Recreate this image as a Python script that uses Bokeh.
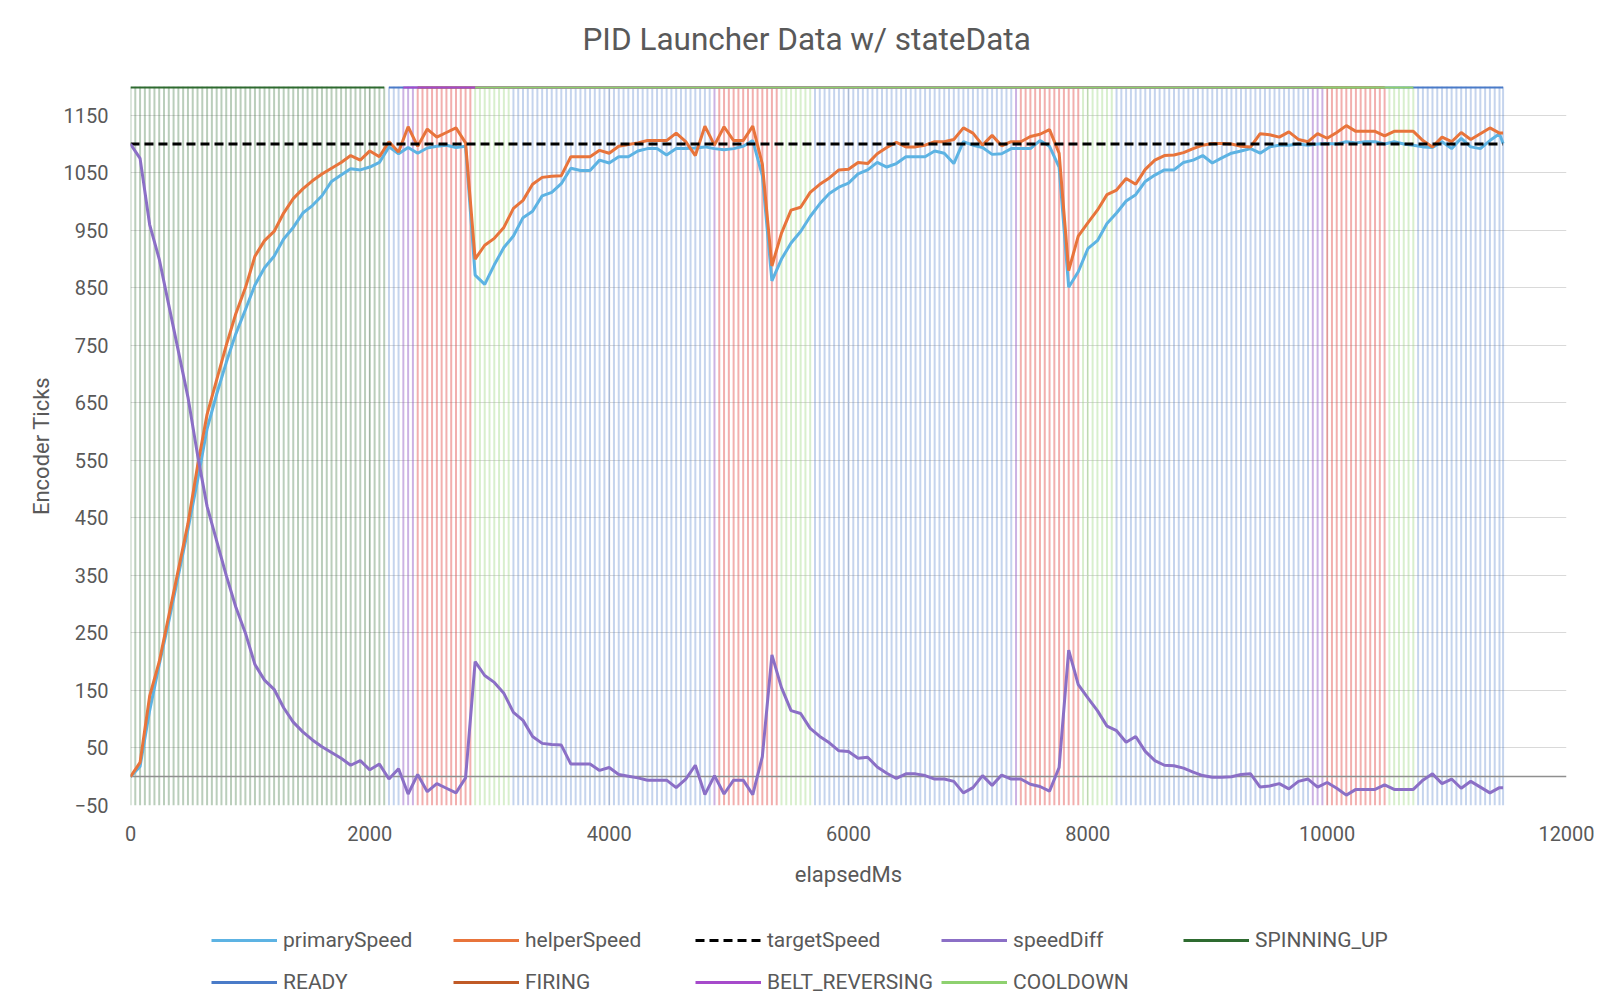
from bokeh.plotting import figure
from bokeh.layouts import column
from bokeh.models import Range1d, FixedTicker, Legend, LegendItem, ColumnDataSource
from bokeh.embed import file_html
from bokeh.resources import INLINE

# ---------------- data ----------------
elapsed_ms = [
    0, 80, 160, 240, 320, 400, 480, 560, 640, 720,
    800, 880, 960, 1040, 1120, 1200, 1280, 1360, 1440, 1520,
    1600, 1680, 1760, 1840, 1920, 2000, 2080, 2160, 2240, 2320,
    2400, 2480, 2560, 2640, 2720, 2800, 2880, 2960, 3040, 3120,
    3200, 3280, 3360, 3440, 3520, 3600, 3680, 3760, 3840, 3920,
    4000, 4080, 4160, 4240, 4320, 4400, 4480, 4560, 4640, 4720,
    4800, 4880, 4960, 5040, 5120, 5200, 5280, 5360, 5440, 5520,
    5600, 5680, 5760, 5840, 5920, 6000, 6080, 6160, 6240, 6320,
    6400, 6480, 6560, 6640, 6720, 6800, 6880, 6960, 7040, 7120,
    7200, 7280, 7360, 7440, 7520, 7600, 7680, 7760, 7840, 7920,
    8000, 8080, 8160, 8240, 8320, 8400, 8480, 8560, 8640, 8720,
    8800, 8880, 8960, 9040, 9120, 9200, 9280, 9360, 9440, 9520,
    9600, 9680, 9760, 9840, 9920, 10000, 10080, 10160, 10240, 10320,
    10400, 10480, 10560, 10640, 10720, 10800, 10880, 10960, 11040, 11120,
    11200, 11280, 11360, 11440, 11470,
]

primary_speed = [
    0, 18, 115, 195, 270, 350, 430, 515, 605, 665,
    720, 770, 812, 855, 885, 905, 935, 955, 980, 993,
    1010, 1035, 1046, 1057, 1055, 1060, 1068, 1095, 1083, 1094,
    1084, 1093, 1096, 1098, 1094, 1096, 872, 856, 890, 920,
    940, 972, 983, 1010, 1016, 1031, 1058, 1054, 1054, 1072,
    1067, 1078, 1078, 1088, 1092, 1092, 1081, 1092, 1092, 1093,
    1095, 1092, 1090, 1092, 1096, 1106, 1045, 862, 900, 928,
    948, 974, 996, 1014, 1025, 1032, 1048, 1055, 1068, 1060,
    1066, 1078, 1078, 1078, 1088, 1084, 1066, 1104, 1098, 1094,
    1082, 1083, 1092, 1092, 1092, 1106, 1096, 1060, 851, 878,
    918, 932, 962, 980, 1001, 1012, 1035, 1046, 1055, 1055,
    1068, 1072, 1080, 1067, 1076, 1084, 1088, 1092, 1084, 1095,
    1098, 1098, 1100, 1098, 1100, 1101, 1100, 1104, 1102, 1104,
    1104, 1100, 1104, 1100, 1098, 1095, 1094, 1104, 1092, 1110,
    1095, 1092, 1106, 1118, 1101,
]

helper_speed = [
    0, 25, 140, 200, 280, 360, 440, 540, 630, 690,
    750, 805, 850, 905, 932, 948, 980, 1005, 1022, 1036,
    1048, 1058, 1068, 1080, 1072, 1088, 1078, 1104, 1086, 1130,
    1096, 1126, 1112, 1120, 1128, 1102, 900, 924, 936, 955,
    988, 1002, 1030, 1042, 1044, 1045, 1078, 1078, 1078, 1089,
    1084, 1096, 1099, 1102, 1106, 1106, 1106, 1119, 1104, 1080,
    1131, 1098, 1130, 1106, 1106, 1131, 1065, 888, 945, 985,
    990, 1016, 1030, 1041, 1055, 1056, 1068, 1066, 1083, 1094,
    1103, 1095, 1095, 1098, 1104, 1104, 1108, 1128, 1119, 1098,
    1115, 1097, 1104, 1104, 1113, 1117, 1125, 1084, 880, 940,
    963, 985, 1012, 1020, 1040, 1030, 1056, 1072, 1080, 1081,
    1085, 1092, 1098, 1101, 1101, 1100, 1096, 1095, 1118, 1116,
    1112, 1121, 1108, 1104, 1118, 1110, 1120, 1132, 1122, 1122,
    1122, 1114, 1122, 1122, 1122, 1106, 1095, 1112, 1104, 1120,
    1108, 1118, 1128, 1119, 1119,
]

speed_diff = [
    1100, 1075, 960, 900, 820, 740, 660, 560, 470, 410,
    350, 295, 250, 195, 168, 152, 120, 95, 78, 64,
    52, 42, 32, 20, 28, 12, 22, -4, 14, -30,
    4, -26, -12, -20, -28, -2, 200, 176, 164, 145,
    112, 98, 70, 58, 56, 55, 22, 22, 22, 11,
    16, 4, 1, -2, -6, -6, -6, -19, -4, 20,
    -31, 2, -30, -6, -6, -31, 35, 212, 155, 115,
    110, 84, 70, 59, 45, 44, 32, 34, 17, 6,
    -3, 5, 5, 2, -4, -4, -8, -28, -19, 2,
    -15, 3, -4, -4, -13, -17, -25, 16, 220, 160,
    137, 115, 88, 80, 60, 70, 44, 28, 20, 19,
    15, 8, 2, -1, -1, 0, 4, 5, -18, -16,
    -12, -21, -8, -4, -18, -10, -20, -32, -22, -22,
    -22, -14, -22, -22, -22, -6, 5, -12, -4, -20,
    -8, -18, -28, -19, -19,
]

target_speed = 1100

# state log samples
state_ms = [
    0, 40, 80, 120, 160, 200, 240, 280, 320, 360, 400, 440, 480, 520, 560, 600, 640, 680, 720, 760,
    800, 840, 880, 920, 960, 1000, 1040, 1080, 1120, 1160, 1200, 1240, 1280, 1320, 1360, 1400, 1440, 1480, 1520, 1560,
    1600, 1640, 1680, 1720, 1760, 1800, 1840, 1880, 1920, 1960, 2000, 2040, 2080, 2120, 2160, 2200, 2240, 2280, 2320, 2360,
    2400, 2440, 2480, 2520, 2560, 2600, 2640, 2680, 2720, 2760, 2800, 2840, 2880, 2920, 2960, 3000, 3040, 3080, 3120, 3160,
    3200, 3240, 3280, 3320, 3360, 3400, 3440, 3480, 3520, 3560, 3600, 3640, 3680, 3720, 3760, 3800, 3840, 3880, 3920, 3960,
    4000, 4040, 4080, 4120, 4160, 4200, 4240, 4280, 4320, 4360, 4400, 4440, 4480, 4520, 4560, 4600, 4640, 4680, 4720, 4760,
    4800, 4840, 4880, 4920, 4960, 5000, 5040, 5080, 5120, 5160, 5200, 5240, 5280, 5320, 5360, 5400, 5440, 5480, 5520, 5560,
    5600, 5640, 5680, 5720, 5760, 5800, 5840, 5880, 5920, 5960, 6000, 6040, 6080, 6120, 6160, 6200, 6240, 6280, 6320, 6360,
    6400, 6440, 6480, 6520, 6560, 6600, 6640, 6680, 6720, 6760, 6800, 6840, 6880, 6920, 6960, 7000, 7040, 7080, 7120, 7160,
    7200, 7240, 7280, 7320, 7360, 7400, 7440, 7480, 7520, 7560, 7600, 7640, 7680, 7720, 7760, 7800, 7840, 7880, 7920, 7960,
    8000, 8040, 8080, 8120, 8160, 8200, 8240, 8280, 8320, 8360, 8400, 8440, 8480, 8520, 8560, 8600, 8640, 8680, 8720, 8760,
    8800, 8840, 8880, 8920, 8960, 9000, 9040, 9080, 9120, 9160, 9200, 9240, 9280, 9320, 9360, 9400, 9440, 9480, 9520, 9560,
    9600, 9640, 9680, 9720, 9760, 9800, 9840, 9880, 9920, 9960, 10000, 10040, 10080, 10120, 10160, 10200, 10240, 10280, 10320, 10360,
    10400, 10440, 10480, 10520, 10560, 10600, 10640, 10680, 10720, 10760, 10800, 10840, 10880, 10920, 10960, 11000, 11040, 11080, 11120, 11160,
    11200, 11240, 11280, 11320, 11360, 11400, 11440, 11470,
]

# state changes: (start ms, state)
state_run_starts = [0, 2140, 2280, 2380, 2860, 3180, 4860, 4900, 5420, 5700,
                    7380, 7420, 7940, 8220, 9880, 9980, 10520, 10760]
state_run_names = ["SPINNING_UP", "READY", "BELT_REVERSING", "FIRING", "COOLDOWN",
                   "READY", "BELT_REVERSING", "FIRING", "COOLDOWN", "READY",
                   "BELT_REVERSING", "FIRING", "COOLDOWN", "READY",
                   "BELT_REVERSING", "FIRING", "COOLDOWN", "READY"]
state_names = ["SPINNING_UP", "READY", "FIRING", "BELT_REVERSING", "COOLDOWN"]
state_level = 1200

x_ticks = [0, 2000, 4000, 6000, 8000, 10000, 12000]
y_ticks = [-50, 50, 150, 250, 350, 450, 550, 650, 750, 850, 950, 1050, 1150]
y_min, y_max = -50, 1200
x_min, x_max = 0, 12000
x_axis_cross = 0

assert len(elapsed_ms) == len(primary_speed) == len(helper_speed) == len(speed_diff)

# ---------------- styles ----------------
FONT = "Roboto"
TXT = "#595959"
W = 1598
state_line_color = {
    "SPINNING_UP": "#2E6B30",
    "READY": "#4A7BC8",
    "FIRING": "#C05A26",
    "BELT_REVERSING": "#A64ACB",
    "COOLDOWN": "#8ED16F",
}
state_tick_color = {
    "SPINNING_UP": "#2E6B30",
    "READY": "#4A78C8",
    "FIRING": "#E0403F",
    "BELT_REVERSING": "#8E55C0",
    "COOLDOWN": "#8ED16F",
}
state_tick_alpha = {
    "SPINNING_UP": 0.33,
    "READY": 0.32,
    "FIRING": 0.42,
    "BELT_REVERSING": 0.45,
    "COOLDOWN": 0.35,
}
series_style = {
    "primarySpeed": dict(line_color="#5DB3E3", line_width=3),
    "helperSpeed": dict(line_color="#E8743B", line_width=3),
    "targetSpeed": dict(line_color="black", line_width=3, line_dash="9 5"),
    "speedDiff": dict(line_color="#8B6FC6", line_width=3),
}

# assign state to each state sample
sample_state = []
for t in state_ms:
    name = state_run_names[0]
    for s, n in zip(state_run_starts, state_run_names):
        if s <= t:
            name = n
    sample_state.append(name)

# ---------------- title strip ----------------
head = figure(width=W, height=80, x_range=Range1d(0, 1), y_range=Range1d(0, 1),
              output_backend="svg", toolbar_location=None,
              x_axis_location=None, y_axis_location=None,
              min_border_left=0, min_border_right=0, min_border_top=0, min_border_bottom=0)
head.outline_line_color = None
head.grid.visible = False
head.title.text = "PID Launcher Data w/ stateData"
head.title.text_font = FONT
head.title.text_font_size = "31.5px"
head.title.text_font_style = "normal"
head.title.text_color = TXT
head.title.align = "left"
head.title.offset = 452
head.title.standoff = 36

# ---------------- main chart ----------------
p = figure(width=W, height=820,
           x_range=Range1d(x_min, x_max), y_range=Range1d(y_min, y_max),
           output_backend="svg", toolbar_location=None,
           min_border_left=130, min_border_right=W - 1566,
           min_border_top=6, min_border_bottom=95)
p.outline_line_color = None
p.background_fill_color = "white"
p.border_fill_color = "white"

xa = p.xaxis[0]
ya = p.yaxis[0]
xa.ticker = FixedTicker(ticks=x_ticks)
ya.ticker = FixedTicker(ticks=y_ticks)
for ax in (xa, ya):
    ax.axis_line_color = None
    ax.major_tick_line_color = None
    ax.minor_tick_line_color = None
    ax.major_tick_out = 0
    ax.major_tick_in = 0
    ax.minor_tick_out = 0
    ax.minor_tick_in = 0
    ax.major_label_text_font = FONT
    ax.major_label_text_font_size = "20px"
    ax.major_label_text_color = TXT
    ax.axis_label_text_font = FONT
    ax.axis_label_text_font_size = "22px"
    ax.axis_label_text_font_style = "normal"
    ax.axis_label_text_color = TXT
xa.axis_label = "elapsedMs"
xa.major_label_standoff = 20
xa.axis_label_standoff = 18
ya.axis_label = "Encoder Ticks"
ya.major_label_standoff = 22
ya.axis_label_standoff = 7

p.xgrid.ticker = FixedTicker(ticks=x_ticks)
p.ygrid.ticker = FixedTicker(ticks=y_ticks)
p.xgrid.grid_line_color = "#d9d9d9"
p.ygrid.grid_line_color = "#d9d9d9"
p.xgrid.grid_line_width = 1
p.ygrid.grid_line_width = 1

# vertical state ticks
tick_src = ColumnDataSource(dict(
    x=state_ms,
    y0=[y_min] * len(state_ms),
    y1=[state_level] * len(state_ms),
    color=[state_tick_color[s] for s in sample_state],
    alpha=[state_tick_alpha[s] for s in sample_state],
))
p.segment(x0="x", y0="y0", x1="x", y1="y1", source=tick_src,
          line_color="color", line_alpha="alpha", line_width=2)

# state lines at the top (connected across gaps)
for name in state_names:
    xs = [t for t, s in zip(state_ms, sample_state) if s == name]
    p.line(xs, [state_level] * len(xs), line_color=state_line_color[name], line_width=4)

# horizontal axis line at zero
p.hspan(y=[x_axis_cross], line_color="#8f8f8f", line_width=1.3)

p.line(elapsed_ms, primary_speed, **series_style["primarySpeed"])
p.line(elapsed_ms, helper_speed, **series_style["helperSpeed"])
p.line(elapsed_ms, [target_speed] * len(elapsed_ms), **series_style["targetSpeed"])
p.line(elapsed_ms, speed_diff, **series_style["speedDiff"])

# ---------------- legend strip ----------------
pl = figure(width=W, height=100, x_range=Range1d(0, 1), y_range=Range1d(0, 1),
            output_backend="svg", toolbar_location=None,
            x_axis_location=None, y_axis_location=None,
            min_border_left=0, min_border_right=0, min_border_top=0, min_border_bottom=0)
pl.outline_line_color = None
pl.grid.visible = False

nan = float("nan")
keys = {}
for name in ["primarySpeed", "helperSpeed", "targetSpeed", "speedDiff"]:
    keys[name] = pl.line(x=[nan], y=[nan], **series_style[name])
for name in state_names:
    keys[name] = pl.line(x=[nan], y=[nan], line_color=state_line_color[name], line_width=3)

legend_order = ["primarySpeed", "helperSpeed", "targetSpeed", "speedDiff", "SPINNING_UP",
                "READY", "FIRING", "BELT_REVERSING", "COOLDOWN"]
legend = Legend(items=[LegendItem(label=n, renderers=[keys[n]]) for n in legend_order],
                orientation="horizontal", ncols=5,
                location=(81, 1), margin=0, padding=0,
                glyph_width=66, glyph_height=34, label_height=34,
                label_width=162, label_standoff=6, spacing=8,
                label_text_font=FONT, label_text_font_size="21px",
                label_text_color=TXT,
                border_line_color=None, background_fill_alpha=0)
pl.add_layout(legend)

page = column(head, p, pl, spacing=0)
open("out.html", "w").write(file_html(page, INLINE))
